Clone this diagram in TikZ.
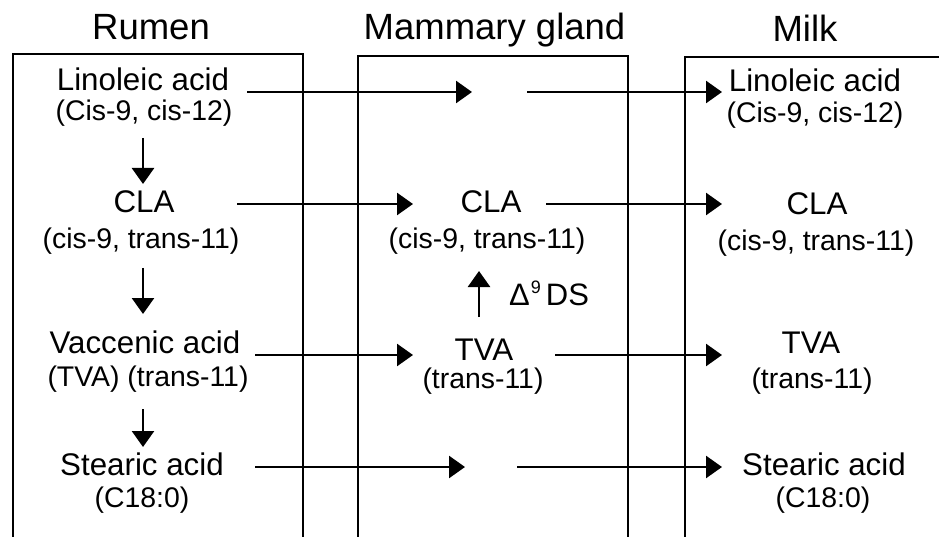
\documentclass[tikz,border=0pt]{standalone}
\usepackage{fontspec}
\setmainfont{Liberation Sans}
\usetikzlibrary{arrows.meta}
\begin{document}
\begin{tikzpicture}[x=1pt,y=-1pt,
  ttl/.style={anchor=base,inner sep=0pt,font=\fontsize{36.5}{40}\selectfont},
  ta/.style={anchor=base,inner sep=0pt,font=\fontsize{31.3}{34}\selectfont},
  tb/.style={anchor=base,inner sep=0pt,font=\fontsize{28.4}{32}\selectfont},
  boxline/.style={line width=1.7pt},
  arr/.style={line width=2.6pt,-{Triangle[length=16pt,width=22pt]}}]
\useasboundingbox (0,0) rectangle (939,537);
\clip (0,0) rectangle (939,537);
\fill[white] (0,0) rectangle (939,537);
% compartments
\draw[boxline] (13,560) -- (13,54) -- (303,54) -- (303,560);
\draw[boxline] (358,560) -- (358,56) -- (628,56) -- (628,560);
\draw[boxline] (685,560) -- (685,57) -- (960,57);
% titles
\node[ttl] (tRumen) at (151,40) {Rumen};
\node[ttl] (tMam) at (494.5,40) {Mammary gland};
\node[ttl] (tMilk) at (805,42) {Milk};
% rumen column
\node[ta] (rLin) at (143,91) {Linoleic acid};
\node[tb] (rLinB) at (144,121) {(Cis-9, cis-12)};
\node[ta] (rCLA) at (144,213) {CLA};
\node[tb] (rCLAB) at (141,249) {(cis-9, trans-11)};
\node[ta] (rVac) at (145,353) {Vaccenic acid};
\node[tb] (rVacB) at (148,386) {(TVA) (trans-11)};
\node[ta] (rSte) at (142,475) {Stearic acid};
\node[tb] (rSteB) at (142,507) {(C18:0)};
% mammary column
\node[ta] (mCLA) at (491,213) {CLA};
\node[tb] (mCLAB) at (487,249) {(cis-9, trans-11)};
\node[ta] (mTVA) at (484,360) {TVA};
\node[tb] (mTVAB) at (483,388) {(trans-11)};
\node[anchor=base west,inner sep=0pt,font=\fontsize{31}{34}\selectfont] (ds) at (509,305) {Δ\kern1pt\raisebox{11pt}{\fontsize{18}{18}\selectfont 9}\kern5pt DS};
% milk column
\node[ta] (kLin) at (815,92) {Linoleic acid};
\node[tb] (kLinB) at (815,123) {(Cis-9, cis-12)};
\node[ta] (kCLA) at (817,215) {CLA};
\node[tb] (kCLAB) at (816,251) {(cis-9, trans-11)};
\node[ta] (kTVA) at (811,353) {TVA};
\node[tb] (kTVAB) at (812,388) {(trans-11)};
\node[ta] (kSte) at (824,475) {Stearic acid};
\node[tb] (kSteB) at (823,507) {(C18:0)};
% connector end points
\coordinate (a1s) at (247,92);  \coordinate (a1m) at (472,92);
\coordinate (a1n) at (527,92);  \coordinate (a1k) at (722,92);
\coordinate (a2s) at (237,204); \coordinate (a2m) at (413,204);
\coordinate (a2n) at (546,204); \coordinate (a2k) at (722,204);
\coordinate (a3s) at (255,355); \coordinate (a3m) at (413,355);
\coordinate (a3n) at (555,355); \coordinate (a3k) at (722,355);
\coordinate (a4s) at (255,467); \coordinate (a4m) at (465,467);
\coordinate (a4n) at (517,467); \coordinate (a4k) at (722,467);
\coordinate (d1s) at (143,138); \coordinate (d1e) at (143,184);
\coordinate (d2s) at (143,268); \coordinate (d2e) at (143,314);
\coordinate (d3s) at (143,409); \coordinate (d3e) at (143,447);
\coordinate (us) at (479,317);  \coordinate (ue) at (479,271);
% connectors
\draw[arr] (a1s) -- (a1m);
\draw[arr] (a1n) -- (a1k);
\draw[arr] (a2s) -- (a2m);
\draw[arr] (a2n) -- (a2k);
\draw[arr] (a3s) -- (a3m);
\draw[arr] (a3n) -- (a3k);
\draw[arr] (a4s) -- (a4m);
\draw[arr] (a4n) -- (a4k);
\draw[arr] (d1s) -- (d1e);
\draw[arr] (d2s) -- (d2e);
\draw[arr] (d3s) -- (d3e);
\draw[arr] (us) -- (ue);
\end{tikzpicture}
\end{document}
